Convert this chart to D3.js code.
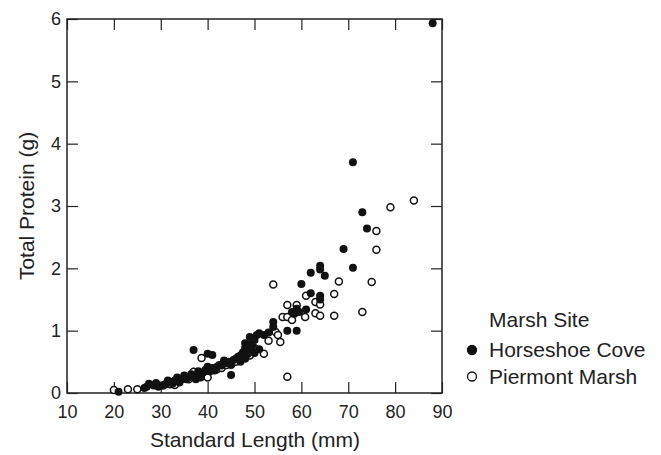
<!DOCTYPE html>
<html>
<head>
<meta charset="utf-8">
<script src="https://cdn.jsdelivr.net/npm/d3@7"></script>
<style>
  body { margin: 0; background: #fff; }
  svg text { font-family: "Liberation Sans", Arial, sans-serif; fill: #222; }
</style>
</head>
<body>
<div id="chart"></div>
<script>
// standard length (mm), total protein (g)
var horseshoe = [
  [21,0.02],[26.5,0.08],[27,0.1],[27.5,0.15],[28.5,0.12],[29,0.16],[29.5,0.1],[30,0.12],
  [31,0.14],[31.5,0.2],[32,0.18],[32.5,0.15],[33,0.2],[33.5,0.25],[34,0.17],[34.5,0.22],
  [35,0.28],[35.5,0.22],[36,0.25],[36.5,0.3],[37,0.27],[37,0.69],[37.5,0.22],[38,0.3],
  [38,0.35],[38.5,0.25],[39,0.33],[39.5,0.37],[40,0.63],[40,0.42],[40.5,0.35],[41,0.61],
  [41,0.4],[41.5,0.36],[42,0.42],[42.5,0.45],[43,0.44],[43.5,0.52],[44,0.48],[44.5,0.5],
  [45,0.29],[45,0.45],[45.5,0.53],[46,0.55],[46.5,0.58],[47,0.6],[47,0.5],[47.5,0.65],
  [48,0.55],[48,0.72],[48,0.8],[48.5,0.62],[49,0.9],[49,0.68],[49,0.78],[49.5,0.75],
  [50,0.85],[50,0.64],[50.5,0.93],[51,0.7],[51,0.96],[52,0.93],[53,0.97],
  [54,1.06],[54,1.14],[57,1.0],[58,1.3],[58.5,1.27],[59,1.35],[59,1.0],[59.5,1.3],
  [60,1.75],[61,1.34],[62,1.93],[62,1.6],[64,2.04],[64,1.98],[64,1.56],[64,1.5],
  [65,1.88],[69,2.31],[71,3.7],[71,2.01],[73,2.9],[74,2.64],[88,5.93]
];
var piermont = [
  [20,0.05],[23,0.06],[25,0.06],[30.5,0.12],[32,0.14],[33,0.13],[34,0.2],[36,0.22],
  [37,0.34],[38.7,0.56],[39,0.28],[40,0.25],[42,0.38],[43,0.4],[44,0.45],[46,0.5],
  [47,0.55],[48,0.66],[49,0.6],[50,0.72],
  [52,0.63],[53,0.84],[54,1.74],[54.5,0.98],[55,0.93],[55.5,0.82],[56,1.22],[57,0.26],
  [57,1.41],[57,1.22],[58,1.17],[59,1.41],[60.8,1.22],[61,1.56],[63,1.46],[63,1.28],
  [64,1.42],[64,1.24],[67,1.59],[67,1.24],[68,1.79],[73,1.3],[75,1.78],[76,2.6],
  [76,2.3],[79,2.98],[84,3.09]
];
var xTicks = [10,20,30,40,50,60,70,80,90];
var yTicks = [0,1,2,3,4,5,6];
var legendLabels = ["Horseshoe Cove","Piermont Marsh"];

var W = 661, H = 455;
var margin = {left: 67, top: 19, right: 219, bottom: 62};
var iw = W - margin.left - margin.right, ih = H - margin.top - margin.bottom;

var svg = d3.select("#chart").append("svg").attr("width", W).attr("height", H);
var g = svg.append("g").attr("transform", "translate(" + margin.left + "," + margin.top + ")");

var x = d3.scaleLinear().domain([10, 90]).range([0, iw]);
var y = d3.scaleLinear().domain([0, 6]).range([ih, 0]);

// frame
g.append("rect").attr("width", iw).attr("height", ih)
  .attr("fill", "none").attr("stroke", "#222").attr("stroke-width", 1.5);

function styleAxis(sel) {
  sel.select(".domain").remove();
  sel.selectAll(".tick line").attr("stroke", "#222").attr("stroke-width", 1.2);
  sel.selectAll(".tick text").style("font-size", "18px").attr("fill", "#222");
}

g.append("g").attr("transform", "translate(0," + ih + ")")
  .call(d3.axisBottom(x).tickValues(xTicks).tickSizeInner(-11).tickSizeOuter(0).tickPadding(12))
  .call(styleAxis);
g.append("g")
  .call(d3.axisLeft(y).tickValues(yTicks).tickSizeInner(-11).tickSizeOuter(0).tickPadding(6)
    .tickFormat(d3.format("d")))
  .call(styleAxis);
g.append("g")
  .call(d3.axisTop(x).tickValues(xTicks).tickSizeInner(-11).tickSizeOuter(0).tickFormat(""))
  .call(styleAxis);
g.append("g").attr("transform", "translate(" + iw + ",0)")
  .call(d3.axisRight(y).tickValues(yTicks).tickSizeInner(-11).tickSizeOuter(0).tickFormat(""))
  .call(styleAxis);

// points
g.append("g").selectAll("circle").data(piermont).join("circle")
  .attr("cx", d => x(d[0])).attr("cy", d => y(d[1])).attr("r", 3.5)
  .attr("fill", "#fff").attr("stroke", "#111").attr("stroke-width", 1.5);
g.append("g").selectAll("circle").data(horseshoe).join("circle")
  .attr("cx", d => x(d[0])).attr("cy", d => y(d[1])).attr("r", 4)
  .attr("fill", "#111");

// axis titles
svg.append("text").attr("x", 255).attr("y", 447)
  .attr("text-anchor", "middle").style("font-size", "21px").text("Standard Length (mm)");
svg.append("text").attr("transform", "translate(34," + (margin.top + ih / 2) + ") rotate(-90)")
  .attr("text-anchor", "middle").style("font-size", "21px").text("Total Protein (g)");

// legend
var lg = svg.append("g").attr("transform", "translate(472,0)");
lg.append("text").attr("x", 17).attr("y", 327).style("font-size", "21px").text("Marsh Site");
var rows = lg.selectAll("g.row").data(legendLabels).join("g").attr("class", "row")
  .attr("transform", (d, i) => "translate(0," + (350 + i * 26.5) + ")");
rows.append("circle").attr("r", 4.5)
  .attr("fill", (d, i) => i === 0 ? "#111" : "#fff")
  .attr("stroke", "#111").attr("stroke-width", 1.3);
rows.append("text").attr("x", 17).attr("dy", "0.35em").style("font-size", "21px").text(d => d);
</script>
</body>
</html>
